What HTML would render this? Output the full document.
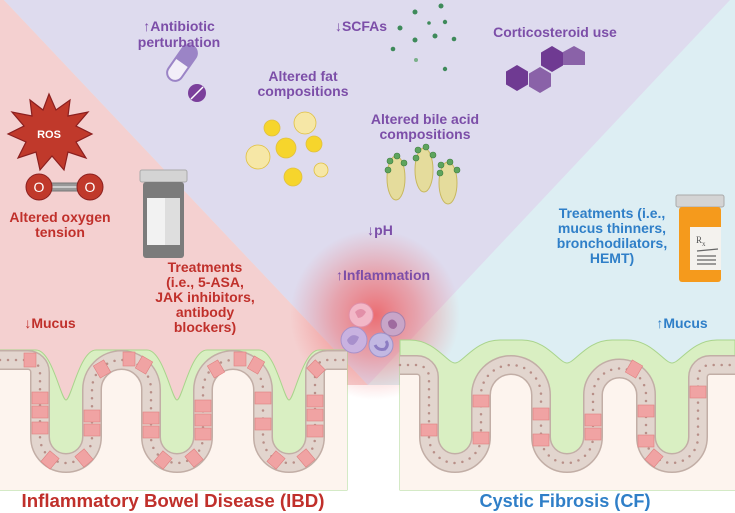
<!DOCTYPE html>
<html><head><meta charset="utf-8"><style>
html,body{margin:0;padding:0;background:#fff}
svg{display:block}
text{font-family:"Liberation Sans",Arial,sans-serif;font-weight:bold}
</style></head><body>
<svg width="735" height="513" viewBox="0 0 735 513" xmlns="http://www.w3.org/2000/svg">
<defs>
<radialGradient id="glow" cx="0.5" cy="0.5" r="0.5">
<stop offset="0" stop-color="#f04848" stop-opacity="0.75"/>
<stop offset="0.5" stop-color="#f06060" stop-opacity="0.45"/>
<stop offset="1" stop-color="#f07070" stop-opacity="0"/>
</radialGradient>
</defs>
<rect width="735" height="513" fill="#ddeef3"/>
<polygon points="0,0 4,0 368,385 368,513 0,513" fill="#f4d0d0"/>
<polygon points="4,0 730,0 368,385" fill="#dedbee"/>
<rect x="0" y="490" width="735" height="23" fill="#fff"/>
<rect x="347" y="385" width="53" height="105" fill="#fff"/>
<circle cx="375" cy="315" r="85" fill="url(#glow)"/>

<!-- LEFT PANEL -->
<path d="M0,350 L36,350 C52,350 61,400 66,400 C71,400 80,350 96,350 L147,350 C163,350 172,400 177,400 C182,400 191,350 207,350 L259,350 C275,350 284,400 289,400 C294,400 303,350 319,350 L347,350 V490 H0 Z" fill="#d9efc2" stroke="#a9d48c" stroke-width="1"/>
<path d="M0,360 H28 A12,12 0 0 1 40,372 V437 A26,26 0 0 0 92,437 V389.5 A29.5,29.5 0 0 1 151,389.5 V437 A26,26 0 0 0 203,437 V390 A30,30 0 0 1 263,390 V437 A26,26 0 0 0 315,437 V372 A12,12 0 0 1 327,360 H347 V490 H0 Z" fill="#fdf4ee"/>
<g fill="none">
<path d="M0,360 H28 A12,12 0 0 1 40,372 V437 A26,26 0 0 0 92,437 V389.5 A29.5,29.5 0 0 1 151,389.5 V437 A26,26 0 0 0 203,437 V390 A30,30 0 0 1 263,390 V437 A26,26 0 0 0 315,437 V372 A12,12 0 0 1 327,360 H347" stroke="#c2aea6" stroke-width="20"/>
<path d="M0,360 H28 A12,12 0 0 1 40,372 V437 A26,26 0 0 0 92,437 V389.5 A29.5,29.5 0 0 1 151,389.5 V437 A26,26 0 0 0 203,437 V390 A30,30 0 0 1 263,390 V437 A26,26 0 0 0 315,437 V372 A12,12 0 0 1 327,360 H347" stroke="#e2d5ce" stroke-width="17"/>
<path d="M0,360 H28 A12,12 0 0 1 40,372 V437 A26,26 0 0 0 92,437 V389.5 A29.5,29.5 0 0 1 151,389.5 V437 A26,26 0 0 0 203,437 V390 A30,30 0 0 1 263,390 V437 A26,26 0 0 0 315,437 V372 A12,12 0 0 1 327,360 H347" stroke="#b88f88" stroke-width="2.5" stroke-linecap="round" stroke-dasharray="0 8"/>
</g>
<g fill="#f0a3a3" stroke="#e08080" stroke-width="0.6">
<rect x="32" y="392" width="16" height="12"/><rect x="32" y="406" width="16" height="12"/><rect x="32" y="422" width="16" height="12"/>
<rect x="84" y="410" width="16" height="12"/><rect x="84" y="424" width="16" height="12"/>
<rect x="143" y="412" width="16" height="12"/><rect x="143" y="426" width="16" height="12"/>
<rect x="195" y="400" width="16" height="12"/><rect x="195" y="414" width="16" height="12"/><rect x="195" y="428" width="16" height="12"/>
<rect x="255" y="392" width="16" height="12"/><rect x="255" y="418" width="16" height="12"/>
<rect x="307" y="395" width="16" height="12"/><rect x="307" y="409" width="16" height="12"/><rect x="307" y="425" width="16" height="12"/>
<rect x="96" y="362" width="12" height="14" transform="rotate(-30 102 369)"/>
<rect x="123" y="352" width="12" height="14"/><rect x="138" y="358" width="12" height="14" transform="rotate(30 144 365)"/>
<rect x="210" y="362" width="12" height="14" transform="rotate(-30 216 369)"/>
<rect x="234" y="352" width="12" height="14"/><rect x="250" y="358" width="12" height="14" transform="rotate(30 256 365)"/>
<rect x="310" y="362" width="12" height="14" transform="rotate(-45 316 369)"/>
<rect x="44" y="453" width="12" height="14" transform="rotate(40 50 460)"/><rect x="78" y="451" width="12" height="14" transform="rotate(-40 84 458)"/>
<rect x="157" y="453" width="12" height="14" transform="rotate(40 163 460)"/><rect x="188" y="451" width="12" height="14" transform="rotate(-40 194 458)"/>
<rect x="270" y="453" width="12" height="14" transform="rotate(40 276 460)"/><rect x="300" y="451" width="12" height="14" transform="rotate(-40 306 458)"/>
<rect x="24" y="353" width="12" height="14"/>
</g>

<!-- RIGHT PANEL -->
<path d="M400,340 L410,340 C435,340 447,363 455,363 C463,363 475,340 500,340 L522,340 C547,340 559,363 567,363 C575,363 587,340 612,340 L627,340 C652,340 664,363 672,363 C680,363 692,340 717,340 L735,340 V490 H400 Z" fill="#d9efc2" stroke="#a9d48c" stroke-width="1"/>
<path d="M400,365 H417 A12,12 0 0 1 429,377 V437 A26,26 0 0 0 481,437 V395 A30,30 0 0 1 541,395 V437 A26,26 0 0 0 593,437 V395 A26.5,26.5 0 0 1 646,395 V437 A26,26 0 0 0 698,437 V377 A12,12 0 0 1 710,365 H735 V490 H400 Z" fill="#fdf4ee"/>
<g fill="none">
<path d="M400,365 H417 A12,12 0 0 1 429,377 V437 A26,26 0 0 0 481,437 V395 A30,30 0 0 1 541,395 V437 A26,26 0 0 0 593,437 V395 A26.5,26.5 0 0 1 646,395 V437 A26,26 0 0 0 698,437 V377 A12,12 0 0 1 710,365 H735" stroke="#c2aea6" stroke-width="20"/>
<path d="M400,365 H417 A12,12 0 0 1 429,377 V437 A26,26 0 0 0 481,437 V395 A30,30 0 0 1 541,395 V437 A26,26 0 0 0 593,437 V395 A26.5,26.5 0 0 1 646,395 V437 A26,26 0 0 0 698,437 V377 A12,12 0 0 1 710,365 H735" stroke="#e2d5ce" stroke-width="17"/>
<path d="M400,365 H417 A12,12 0 0 1 429,377 V437 A26,26 0 0 0 481,437 V395 A30,30 0 0 1 541,395 V437 A26,26 0 0 0 593,437 V395 A26.5,26.5 0 0 1 646,395 V437 A26,26 0 0 0 698,437 V377 A12,12 0 0 1 710,365 H735" stroke="#b88f88" stroke-width="2.5" stroke-linecap="round" stroke-dasharray="0 8"/>
</g>
<g fill="#f0a3a3" stroke="#e08080" stroke-width="0.6">
<rect x="421" y="424" width="16" height="12"/>
<rect x="473" y="395" width="16" height="12"/><rect x="473" y="432" width="16" height="12"/>
<rect x="533" y="408" width="16" height="12"/><rect x="533" y="434" width="16" height="12"/>
<rect x="585" y="414" width="16" height="12"/><rect x="585" y="428" width="16" height="12"/>
<rect x="638" y="405" width="16" height="12"/><rect x="638" y="435" width="16" height="12"/>
<rect x="690" y="386" width="16" height="12"/>
<rect x="628" y="362" width="12" height="14" transform="rotate(30 634 369)"/>
<rect x="648" y="451" width="12" height="14" transform="rotate(40 654 458)"/>
</g>

<!-- immune cells -->
<circle cx="361" cy="315" r="12" fill="#f2b7c7" stroke="#e08fa8"/>
<path d="M355,312 q6,-6 11,0 q-3,6 -8,6" fill="#e28fa8"/>
<circle cx="393" cy="324" r="12" fill="#c8a5c8" stroke="#a681ab"/>
<path d="M388,322 q4,-5 8,0 q3,4 -2,7 q-6,0 -6,-7" fill="#9f6a9f"/>
<circle cx="354" cy="340" r="13" fill="#c9b2e0" stroke="#a891c9"/>
<path d="M347,340 q5,-8 12,-3 q-2,6 -6,8 q-5,0 -6,-5" fill="#a88fcc"/>
<circle cx="381" cy="345" r="12" fill="#c2b8e2" stroke="#9f93c9"/>
<path d="M375,345 q3,6 10,4 q4,-4 1,-8" fill="none" stroke="#8c7cc2" stroke-width="3"/>

<!-- ROS -->
<polygon points="49,94 56,110 70,100 68,116 88,112 76,126 92,134 76,142 86,158 68,152 64,170 52,156 40,170 36,152 18,158 26,142 8,134 24,126 12,112 32,116 30,100 43,110" fill="#c0392b" stroke="#8b1f1f" stroke-width="1.2"/>
<text x="49" y="138" font-size="11" fill="#fff" text-anchor="middle">ROS</text>
<rect x="48" y="183" width="34" height="8" fill="#999" stroke="#777"/>
<line x1="50" y1="187" x2="80" y2="187" stroke="#ddd" stroke-width="1.5"/>
<circle cx="39" cy="187" r="13" fill="#c0392b" stroke="#8b1f1f"/>
<circle cx="90" cy="187" r="13" fill="#c0392b" stroke="#8b1f1f"/>
<text x="39" y="192" font-size="14" fill="#fff" text-anchor="middle" style="font-weight:normal">O</text>
<text x="90" y="192" font-size="14" fill="#fff" text-anchor="middle" style="font-weight:normal">O</text>

<!-- jar -->
<rect x="140" y="170" width="47" height="12" rx="2" fill="#d4d4d4" stroke="#aaa"/>
<rect x="143" y="182" width="41" height="76" rx="3" fill="#7b7b7b"/>
<rect x="147" y="198" width="33" height="47" fill="#f2f2f2"/>
<rect x="165" y="198" width="15" height="47" fill="#dedede"/>

<!-- bottle -->
<rect x="676" y="195" width="48" height="12" rx="2" fill="#d4d4d4" stroke="#aaa"/>
<rect x="679" y="207" width="42" height="75" rx="3" fill="#f59a1c"/>
<rect x="690" y="227" width="31" height="43" fill="#f4f2ee"/>
<text x="696" y="243" font-size="9" fill="#555" style="font-weight:normal;font-family:'Liberation Serif',serif">R<tspan font-size="7" dy="3">x</tspan></text>
<g stroke="#666" stroke-width="1.2"><line x1="697" y1="251" x2="718" y2="249"/><line x1="697" y1="256" x2="716" y2="256"/><line x1="697" y1="260" x2="716" y2="260"/><line x1="697" y1="264" x2="716" y2="264"/></g>

<!-- capsule -->
<g transform="rotate(-55 182 63)">
<rect x="162" y="55" width="40" height="16" rx="8" fill="#f2eef8" stroke="#9b84c6" stroke-width="2"/>
<path d="M182,55 H194 a8,8 0 0 1 0,16 H182 Z" fill="#9b84c6"/>
</g>
<circle cx="197" cy="93" r="9" fill="#7b3f9b"/>
<line x1="191" y1="99" x2="203" y2="87" stroke="#fff" stroke-width="1.5"/>

<!-- fat droplets -->
<g stroke="#e0c040" stroke-width="0.8">
<circle cx="272" cy="128" r="8" fill="#f6d52c"/>
<circle cx="305" cy="123" r="11" fill="#f6e7a6"/>
<circle cx="286" cy="148" r="10" fill="#f6d52c"/>
<circle cx="314" cy="144" r="8" fill="#f6d52c"/>
<circle cx="258" cy="157" r="12" fill="#f6e7a6"/>
<circle cx="293" cy="177" r="9" fill="#f6d52c"/>
<circle cx="321" cy="170" r="7" fill="#f6e7a6"/>
</g>

<!-- bile acids -->
<g fill="#e5dc9c" stroke="#c8b860" stroke-width="1">
<ellipse cx="396" cy="178" rx="9" ry="22"/>
<ellipse cx="424" cy="170" rx="9" ry="22"/>
<ellipse cx="448" cy="183" rx="9" ry="21"/>
</g>
<g fill="#5ea45e" stroke="#3e7e3e" stroke-width="0.6">
<circle cx="390" cy="161" r="3"/><circle cx="397" cy="156" r="3"/><circle cx="404" cy="163" r="3"/><circle cx="388" cy="170" r="3"/>
<circle cx="418" cy="150" r="3"/><circle cx="426" cy="147" r="3"/><circle cx="433" cy="155" r="3"/><circle cx="416" cy="158" r="3"/>
<circle cx="441" cy="165" r="3"/><circle cx="450" cy="162" r="3"/><circle cx="457" cy="170" r="3"/><circle cx="440" cy="173" r="3"/>
</g>

<!-- SCFA dots -->
<g fill="#3e8a5a">
<circle cx="441" cy="6" r="2.5"/><circle cx="415" cy="12" r="2.5"/><circle cx="429" cy="23" r="1.8"/><circle cx="445" cy="22" r="2.2"/><circle cx="400" cy="28" r="2.5"/><circle cx="435" cy="36" r="2.5"/><circle cx="415" cy="40" r="2.5"/><circle cx="454" cy="39" r="2.3"/><circle cx="393" cy="49" r="2.3"/><circle cx="416" cy="60" r="2" fill="#7ab08a"/><circle cx="445" cy="69" r="2.2"/>
</g>

<!-- hexagons -->
<polygon points="517,65 528,71.5 528,84.5 517,91 506,84.5 506,71.5" fill="#6f3a92"/>
<polygon points="540,67 551,73.5 551,86.5 540,93 529,86.5 529,73.5" fill="#8a62a8"/>
<polygon points="552,46 563,52.5 563,65.5 552,72 541,65.5 541,52.5" fill="#6f3a92"/>
<polygon points="574,46 585,52 585,65 563,65 563,52" fill="#8a62a8"/>

<!-- texts purple -->
<g fill="#7c4ea8" font-size="14" text-anchor="middle">
<text x="179" y="31">↑Antibiotic</text>
<text x="179" y="47">perturbation</text>
<text x="361" y="31">↓SCFAs</text>
<text x="555" y="37">Corticosteroid use</text>
<text x="303" y="81">Altered fat</text>
<text x="303" y="96">compositions</text>
<text x="425" y="124">Altered bile acid</text>
<text x="425" y="139">compositions</text>
<text x="380" y="235">↓pH</text>
<text x="383" y="280">↑Inflammation</text>
</g>
<!-- red texts -->
<g fill="#c0302b" font-size="14" text-anchor="middle">
<text x="60" y="222">Altered oxygen</text>
<text x="60" y="237">tension</text>
<text x="205" y="272">Treatments</text>
<text x="205" y="287">(i.e., 5-ASA,</text>
<text x="205" y="302">JAK inhibitors,</text>
<text x="205" y="317">antibody</text>
<text x="205" y="332">blockers)</text>
<text x="50" y="328">↓Mucus</text>
</g>
<g fill="#2f7fc8" font-size="14" text-anchor="middle">
<text x="612" y="218">Treatments (i.e.,</text>
<text x="612" y="233">mucus thinners,</text>
<text x="612" y="248">bronchodilators,</text>
<text x="612" y="263">HEMT)</text>
<text x="682" y="328">↑Mucus</text>
</g>
<text x="173" y="507" font-size="18" fill="#c0302b" text-anchor="middle" textLength="303" lengthAdjust="spacingAndGlyphs">Inflammatory Bowel Disease (IBD)</text>
<text x="565" y="507" font-size="18" fill="#2f7fc8" text-anchor="middle" textLength="171" lengthAdjust="spacingAndGlyphs">Cystic Fibrosis (CF)</text>
</svg>
</body></html>
